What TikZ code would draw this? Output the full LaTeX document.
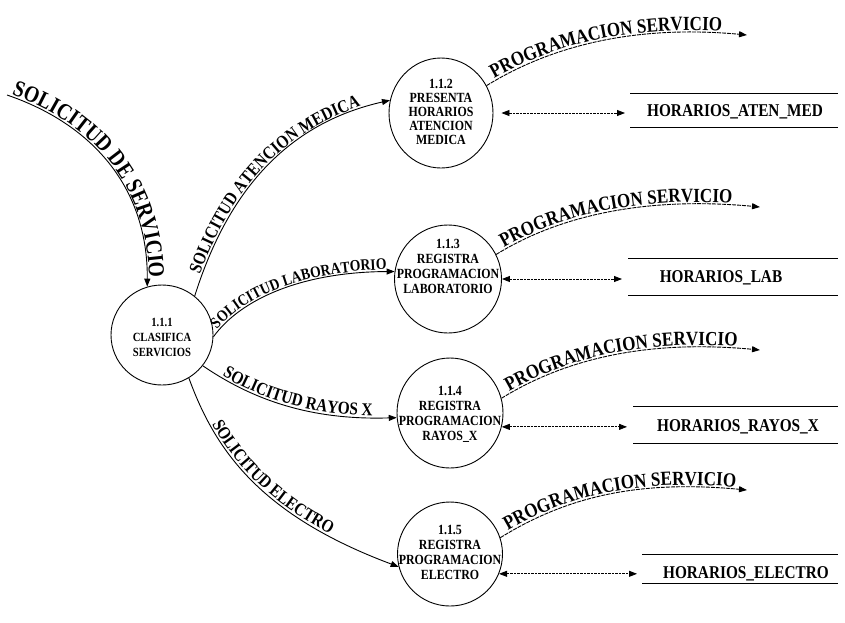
\documentclass[tikz,border=0pt]{standalone}
\usepackage{fontspec}
\setmainfont{Liberation Serif}[FakeStretch=0.85]
\usetikzlibrary{arrows.meta,decorations.text,shapes.geometric}

% font sizes for the different kinds of text
\newcommand\inflowfont{\bfseries\fontsize{23}{23}\selectfont}
\newcommand\flowfont{\bfseries\fontsize{18}{18}\selectfont}
\newcommand\outfont{\bfseries\fontsize{20}{20}\selectfont}
\newcommand\labfont{\bfseries\fontsize{16}{16}\selectfont}
\newcommand\storefont{\bfseries\fontsize{18}{18}\selectfont}
\newcommand\procfont{\bfseries\fontsize{14}{15}\selectfont}
\newcommand\mainprocfont{\bfseries\fontsize{12.5}{15}\selectfont}

\begin{document}
\begin{tikzpicture}[x=1pt,y=-1pt,
  proc/.style={ellipse,draw,line width=0.9pt,inner sep=0pt},
  ptext/.style={align=center,inner sep=0pt,font=\procfont},
  tip/.style={-{Triangle[length=8pt,width=6pt]}},
  flow/.style={line width=0.9pt,tip},
  outflow/.style={line width=0.9pt,tip,dash pattern=on 4pt off 1pt},
  bidir/.style={line width=0.8pt,dash pattern=on 2.5pt off 1pt,
    {Triangle[length=8pt,width=6pt]}-{Triangle[length=8pt,width=6pt]}},
  storeline/.style={line width=0.8pt},
  storetext/.style={font=\storefont,inner sep=0pt,anchor=base},
  along/.style n args={3}{postaction={decorate,decoration={text along path,
    text={|#1|#2},raise=2pt,text align={left indent=#3}}}}]
\useasboundingbox (0,0) rectangle (845,622);

% processes
\node[proc,minimum width=102pt,minimum height=100pt] (p111) at (162,335) {};
\node[ptext,font=\mainprocfont] (t111) at (162,337) {1.1.1\\CLASIFICA\\SERVICIOS};
\node[proc,minimum width=104pt,minimum height=110pt] (p112) at (441,113) {};
\node[ptext,font=\bfseries\fontsize{14}{14}\selectfont] (t112) at (441,112)
  {1.1.2\\PRESENTA\\HORARIOS\\ATENCION\\MEDICA};
\node[proc,minimum width=107pt,minimum height=108pt] (p113) at (448,279) {};
\node[ptext] (t113) at (448,266) {1.1.3\\REGISTRA\\PROGRAMACION\\LABORATORIO};
\node[proc,minimum width=106pt,minimum height=110pt] (p114) at (450,413) {};
\node[ptext] (t114) at (450,414) {1.1.4\\REGISTRA\\PROGRAMACION\\RAYOS\_X};
\node[proc,minimum width=105pt,minimum height=104pt] (p115) at (450,554) {};
\node[ptext] (t115) at (450,552) {1.1.5\\REGISTRA\\PROGRAMACION\\ELECTRO};

% data stores
\node[storetext] (s112) at (735,116) {HORARIOS\_ATEN\_MED};
\draw[storeline] (630,93) -- (838,93) (630,127) -- (838,127);
\node[storetext] (s113) at (721,282) {HORARIOS\_LAB};
\draw[storeline] (628,258) -- (838,258) (628,295) -- (838,295);
\node[storetext] (s114) at (738,431) {HORARIOS\_RAYOS\_X};
\draw[storeline] (633,406) -- (838,406) (633,443) -- (838,443);
\node[storetext] (s115) at (746,578) {HORARIOS\_ELECTRO};
\draw[storeline] (642,554) -- (838,554) (642,583) -- (838,583);

% free ends of the flows
\coordinate (src) at (7,95);
\coordinate (o112) at (747,35);
\coordinate (o113) at (760,207);
\coordinate (o114) at (760,350);
\coordinate (o115) at (747,490);
\coordinate (a112) at (625,112);
\coordinate (a113) at (622,279);
\coordinate (a114) at (627,427);
\coordinate (a115) at (637,574);

% incoming request
\draw[flow,along={\inflowfont}{SOLICITUD DE SERVICIO}{4pt}]
  (src) .. controls (95,125) and (148,190) .. (p111.107);

% requests to the sub-processes
\draw[flow,along={\flowfont}{SOLICITUD ATENCION MEDICA}{22pt}]
  (p111.50) .. controls (225,200) and (280,125) .. (p112.166);
\draw[flow,along={\labfont}{SOLICITUD LABORATORIO}{8pt}]
  (p111.-2) .. controls (240,300) and (300,272) .. (p113.172);
\draw[flow,along={\flowfont}{SOLICITUD RAYOS X}{22pt}]
  (p111.-37) .. controls (260,405) and (320,420) .. (p114.185);
\draw[flow,along={\flowfont}{SOLICITUD ELECTRO}{52pt}]
  (p111.-58) .. controls (215,450) and (260,515) .. (p115.194);

% scheduling outputs
\draw[outflow,along={\outfont}{PROGRAMACION SERVICIO}{10pt}]
  (p112.31) .. controls +(68,-42) and +(-107,-10) .. (o112);
\draw[outflow,along={\outfont}{PROGRAMACION SERVICIO}{10pt}]
  (p113.27) .. controls +(68,-42) and +(-107,-10) .. (o113);
\draw[outflow,along={\outfont}{PROGRAMACION SERVICIO}{10pt}]
  (p114.16) .. controls +(68,-42) and +(-107,-10) .. (o114);
\draw[outflow,along={\outfont}{PROGRAMACION SERVICIO}{10pt}]
  (p115.18) .. controls +(68,-42) and +(-107,-10) .. (o115);

% store access
\draw[bidir,shorten <=8pt] (p112.east) -- (p112.east -| a112);
\draw[bidir] (p113.east) -- (p113.east -| a113);
\draw[bidir] (p114.-15) -- (p114.-15 -| a114);
\draw[bidir] (p115.-22) -- (p115.-22 -| a115);
\end{tikzpicture}
\end{document}
